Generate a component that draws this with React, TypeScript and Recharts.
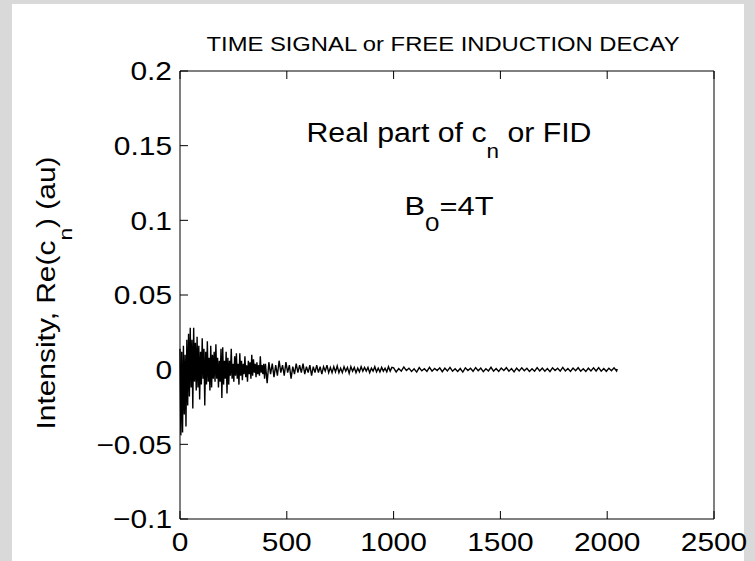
import React from "react";
import { LineChart, Line, XAxis, YAxis } from "recharts";

const seg1Start = 0;
const seg1Step = 4;
const seg1 = [
  0.014, -0.044, 0.012, -0.042, 0.016, -0.03, 0.01, -0.038, 0.02, -0.024,
  0.024, -0.018, 0.028, -0.012, 0.02, -0.026, 0.028, -0.008, 0.018, -0.014,
  0.022, -0.012, 0.016, -0.02, 0.012, -0.01, 0.021, -0.006, 0.014, -0.024,
  0.012, -0.01, 0.019, -0.008, 0.008, -0.014, 0.016, -0.012, 0.01, -0.006,
  0.012, -0.008, 0.017, -0.006, 0.008, -0.012, 0.006, -0.008, 0.014, -0.019,
  0.015, -0.01, 0.006, -0.006, 0.012, -0.016, 0.008, -0.01, 0.006, -0.004,
  0.014, -0.006, 0.004, -0.008, 0.009, -0.004, 0.011, -0.006, 0.004, -0.01,
  0.011, -0.004, 0.006, -0.007, 0.004, -0.003, 0.009, -0.005, 0.003, -0.008,
  0.006, -0.003, 0.005, -0.006, 0.01, -0.004, 0.007, -0.002, 0.004, -0.005,
  0.005, -0.003, 0.003, -0.004, 0.009, -0.002, 0.003, -0.003, 0.004, -0.006,
];

const seg2Start = 400;
const seg2Step = 8;
const seg2 = [
  0.004, -0.009, 0.005, -0.003, 0.004, -0.005, 0.003, -0.004, 0.006, -0.002,
  0.003, -0.004, 0.005, -0.002, 0.003, -0.006, 0.002, -0.003, 0.004, -0.002,
  0.003, -0.002, 0.004, -0.003, 0.002, -0.002, 0.003, -0.004, 0.002, -0.002,
  0.003, -0.002, 0.002, -0.003, 0.002, -0.001, 0.003, -0.002, 0.0015, -0.002,
  0.002, -0.0015, 0.0025, -0.002, 0.001, -0.002, 0.002, -0.001, 0.0015, -0.0025,
  0.002, -0.001, 0.0015, -0.002, 0.001, -0.0015, 0.002, -0.001, 0.0015, -0.001,
  0.0015, -0.002, 0.001, -0.001, 0.002, -0.0015, 0.001, -0.0015, 0.0015, -0.001,
  0.001, -0.0015, 0.002, -0.001, 0.0015,
];

const seg3Start = 1000;
const seg3Step = 12;
const seg3 = [
  0.0012, -0.0015, 0.0008, -0.001, 0.0018, -0.0006, 0.001, -0.0012, 0.0006, -0.0016,
  0.0014, -0.0008, 0.0006, -0.0012, 0.0016, -0.001, 0.0008, -0.0006, 0.0012, -0.0014,
  0.001, -0.0008, 0.0015, -0.001, 0.0006, -0.0012, 0.0008, -0.0016, 0.0012, -0.0006,
  0.0009, -0.0011, 0.0014, -0.0007, 0.001, -0.0013, 0.0006, -0.0009, 0.0016, -0.001,
  0.0008, -0.0012, 0.0011, -0.0006, 0.0013, -0.001, 0.0007, -0.0015, 0.001, -0.0008,
  0.0012, -0.0007, 0.0009, -0.0012, 0.0006, -0.001, 0.0014, -0.0008, 0.001, -0.0011,
  0.0007, -0.0013, 0.0012, -0.0006, 0.0009, -0.001, 0.0015, -0.0009, 0.0008, -0.0012,
  0.0011, -0.0007, 0.0013, -0.001, 0.0006, -0.0012, 0.001, -0.0008, 0.0012, -0.0009,
  0.0014, -0.001, 0.0008, -0.0011, 0.001, -0.0007, 0.0012, -0.0009,
];
const lastSample = { n: 2047, re: 0.0004 };

const xTicks = [0, 500, 1000, 1500, 2000, 2500];
const yTicks = [-0.1, -0.05, 0, 0.05, 0.1, 0.15, 0.2];

const data = [
  ...seg1.map((re, i) => ({ n: seg1Start + i * seg1Step, re })),
  ...seg2.map((re, i) => ({ n: seg2Start + i * seg2Step, re })),
  ...seg3.map((re, i) => ({ n: seg3Start + i * seg3Step, re })),
  lastSample,
];

const font = "'Liberation Sans', Arial, Helvetica, sans-serif";
const fmtY = (v: number) => (v < 0 ? "\u2212" + Math.abs(v) : String(v));
const noLabel = () => "";
const TL = 8; // tick length, ticks point into the box like matlab

// old matlab raster font is wider than Arial, so stretch the labels a bit
const XTick = (props: any) => {
  const { x, y, payload } = props;
  return (
    <text transform={`translate(${x},${y}) scale(1.15,1)`} textAnchor="middle" dy="0.71em" fontSize={26} fontFamily={font} fill="#000">
      {payload.value}
    </text>
  );
};

const YTick = (props: any) => {
  const { x, y, payload } = props;
  return (
    <text transform={`translate(${x},${y}) scale(1.15,1)`} textAnchor="end" dy="0.355em" fontSize={26} fontFamily={font} fill="#000">
      {fmtY(payload.value)}
    </text>
  );
};

export default function App() {
  return (
    <div style={{ position: "absolute", left: 0, top: 0, width: 755, height: 561, background: "#d9d9d9", overflow: "hidden" }}>
      <div style={{ position: "absolute", left: 12, top: 4, width: 732, height: 560, background: "#fff" }} />
      <div style={{ position: "absolute", left: 0, top: 0 }}>
        <LineChart
          width={755}
          height={561}
          data={data}
          margin={{ top: 70, right: 40, left: 120, bottom: 12 }}
        >
          <XAxis
            xAxisId="b"
            dataKey="n"
            type="number"
            domain={[0, 2500]}
            ticks={xTicks}
            height={30}
            tickSize={TL}
            tickLine={{ stroke: "#000", transform: `translate(0,${-TL})` }}
            tickMargin={6}
            stroke="#000"
            tick={<XTick />}
          />
          <XAxis
            xAxisId="t"
            dataKey="n"
            type="number"
            orientation="top"
            domain={[0, 2500]}
            ticks={xTicks}
            height={1}
            tickSize={TL}
            tickLine={{ stroke: "#000", transform: `translate(0,${TL})` }}
            tickFormatter={noLabel}
            stroke="#000"
          />
          <YAxis
            yAxisId="l"
            type="number"
            domain={[-0.1, 0.2]}
            ticks={yTicks}
            width={60}
            tickSize={TL}
            tickLine={{ stroke: "#000", transform: `translate(${TL},0)` }}
            tickMargin={0}
            stroke="#000"
            tick={<YTick />}
          />
          <YAxis
            yAxisId="r"
            type="number"
            orientation="right"
            domain={[-0.1, 0.2]}
            ticks={yTicks}
            width={1}
            tickSize={TL}
            tickLine={{ stroke: "#000", transform: `translate(${-TL},0)` }}
            tickFormatter={noLabel}
            stroke="#000"
          />
          <Line
            xAxisId="b"
            yAxisId="l"
            dataKey="re"
            type="linear"
            stroke="#000"
            strokeWidth={1.4}
            dot={false}
            isAnimationActive={false}
          />
        </LineChart>
      </div>
      <svg width={755} height={561} style={{ position: "absolute", left: 0, top: 0, pointerEvents: "none" }}>
        <text x={443} y={51} textAnchor="middle" fontSize={21} textLength={473} lengthAdjust="spacingAndGlyphs" fontFamily={font} fill="#000">
          TIME SIGNAL or FREE INDUCTION DECAY
        </text>
        <text x={449} y={142} textAnchor="middle" fontSize={27} textLength={285} lengthAdjust="spacingAndGlyphs" fontFamily={font} fill="#000">
          Real part of c
          <tspan dy={16} fontSize={20}>n</tspan>
          <tspan dy={-16}> or FID</tspan>
        </text>
        <text x={449} y={215} textAnchor="middle" fontSize={25} textLength={89} lengthAdjust="spacingAndGlyphs" fontFamily={font} fill="#000">
          B
          <tspan dy={16} fontSize={21}>0</tspan>
          <tspan dy={-16}>=4T</tspan>
        </text>
        <text x={55} y={293} transform="rotate(-90 55 293)" textAnchor="middle" fontSize={25} textLength={273} lengthAdjust="spacingAndGlyphs" fontFamily={font} fill="#000">
          Intensity, Re(c
          <tspan dy={17} fontSize={19}>n</tspan>
          <tspan dy={-17}>) (au)</tspan>
        </text>
      </svg>
    </div>
  );
}
